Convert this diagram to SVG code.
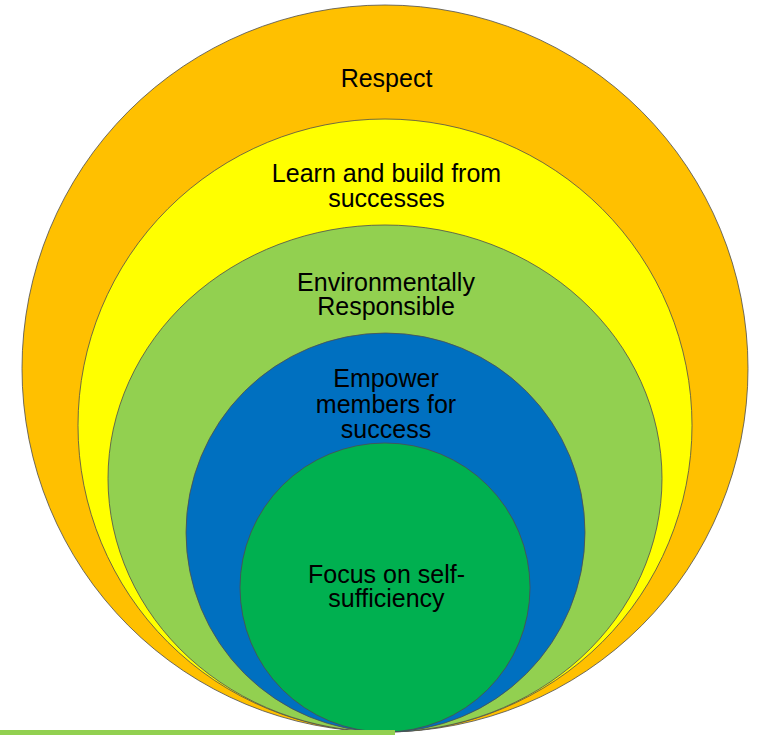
<svg xmlns="http://www.w3.org/2000/svg" width="760" height="735" viewBox="0 0 760 735">
<style>
.ring{stroke:#4d4d4d;stroke-width:1;stroke-opacity:0.8}
.lbl{font-family:"Liberation Sans",Arial,sans-serif;font-size:25px;fill:#000;text-anchor:middle}
</style>
<rect width="760" height="735" fill="#fff"/>
<g id="respect">
<ellipse class="ring" cx="385" cy="368.5" rx="363" ry="363.5" fill="#FFC000"/>
<text class="lbl" x="386.5" y="86.5">Respect</text>
</g>
<g id="learn">
<ellipse class="ring" cx="385" cy="425.5" rx="307" ry="306.5" fill="#FFFF00"/>
<text class="lbl" x="386.5" y="181.5">Learn and build from</text>
<text class="lbl" x="386.5" y="206.5">successes</text>
</g>
<g id="environment">
<ellipse class="ring" cx="385" cy="478.5" rx="277" ry="253.5" fill="#92D050"/>
<text class="lbl" x="386" y="290.5">Environmentally</text>
<text class="lbl" x="386" y="315">Responsible</text>
</g>
<g id="empower">
<ellipse class="ring" cx="385.5" cy="532.5" rx="199.5" ry="199.5" fill="#0070C0"/>
<text class="lbl" x="386" y="387">Empower</text>
<text class="lbl" x="386" y="413">members for</text>
<text class="lbl" x="386" y="438">success</text>
</g>
<g id="focus">
<ellipse class="ring" cx="385" cy="587.5" rx="145" ry="144.5" fill="#00B050"/>
<text class="lbl" x="386.5" y="583">Focus on self-</text>
<text class="lbl" x="386.5" y="607">sufficiency</text>
</g>
<g id="connectors"></g>
<rect x="0" y="730" width="395" height="5" fill="#92D050"/>
</svg>
